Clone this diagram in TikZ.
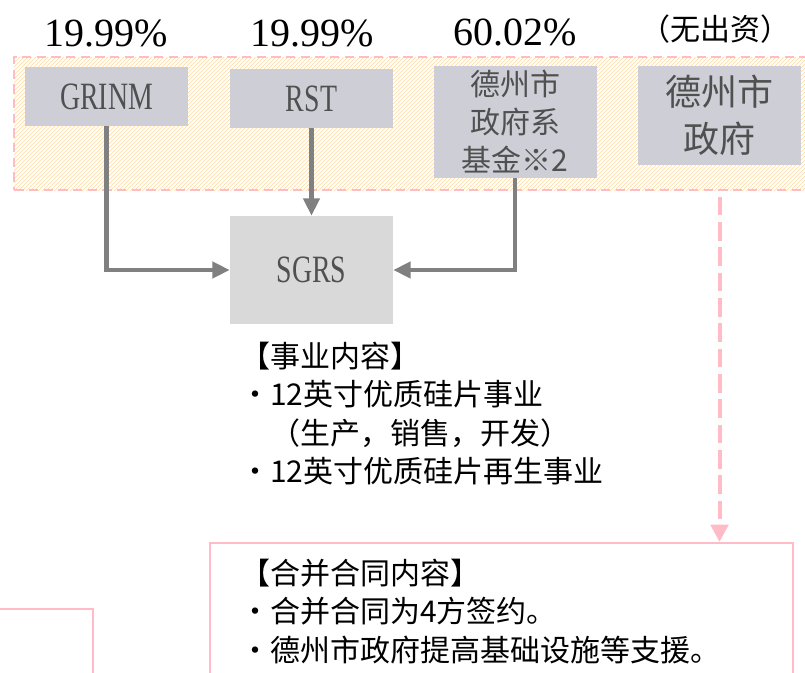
\documentclass[tikz,border=0pt]{standalone}
\usepackage{fontspec}
\setmainfont{Liberation Serif}
\newfontfamily\cjk{Noto Sans CJK SC}
\newfontfamily\narrowserif[FakeStretch=0.72]{Liberation Serif}
\usetikzlibrary{arrows.meta,patterns}

\definecolor{boxgray}{RGB}{206,206,215}
\definecolor{sgrsgray}{RGB}{217,217,217}
\definecolor{linegray}{RGB}{128,128,128}
\definecolor{labelgray}{RGB}{80,80,80}
\definecolor{pinkline}{RGB}{255,188,198}
\definecolor{hatch}{RGB}{255,218,160}

\begin{document}
\begin{tikzpicture}[x=0.75pt,y=-0.75pt,
    share/.style={draw=pinkline, dash pattern=on 7pt off 4pt, line width=1.8pt,
        pattern=north east lines, pattern color=hatch, inner sep=0pt},
    holder/.style={fill=boxgray, text=labelgray, inner sep=0pt,
        minimum width=122.25pt},
    latin/.style={font=\narrowserif\fontsize{29}{34}\selectfont},
    pct/.style={font=\fontsize{30}{36}\selectfont},
    flow/.style={draw=linegray, line width=3.2pt, -{Triangle[length=13pt,width=12pt]}},
    note/.style={align=left, inner sep=0pt, font=\cjk\fontsize{22.5}{28.7}\selectfont},
    pinkbox/.style={draw=pinkline, line width=1.5pt}]
\clip (0,0) rectangle (805,673);

% shareholders area
\node[share, anchor=north west, minimum width=600pt, minimum height=99.75pt] (share) at (13,56) {};

\node[pct] (pgrinm) at (106,33) {19.99\%};
\node[pct] (prst) at (312,33) {19.99\%};
\node[pct] (pfund) at (515,32) {60.02\%};
\node[note] (pcity) at (715,29) {（无出资）};

\node[holder, latin, minimum height=44.25pt] (grinm) at (106.5,96.5) {GRINM};
\node[holder, latin, minimum height=44.25pt] (rst) at (311.5,98.5) {RST};
\node[holder, align=center, minimum height=84pt,
    font=\cjk\fontsize{22.5}{28.5}\selectfont] (fund) at (515,122) {德州市\\政府系\\基金※2};
\node[holder, align=center, minimum height=74.25pt,
    font=\cjk\fontsize{27}{35}\selectfont] (city) at (719.5,115.5) {德州市\\政府};

\node[holder, latin, fill=sgrsgray, minimum height=81pt] (sgrs) at (311.5,270) {SGRS};

\draw[flow] (grinm.south) |- (sgrs.west);
\draw[flow] (rst.south) -- (sgrs.north);
\draw[flow] (fund.south) |- (sgrs.east);

\node[note, anchor=north west] (business) at (240,342) {【事业内容】\\・12英寸优质硅片事业\\\hspace{1em}（生产，销售，开发）\\・12英寸优质硅片再生事业};

% agreement
\node[pinkbox, anchor=north west, minimum width=437.25pt, minimum height=120pt] (merge) at (209,542) {};
\node[note, anchor=north west] (terms) at (240,559) {【合并合同内容】\\・合并合同为4方签约。\\・德州市政府提高基础设施等支援。};
\draw[pinkbox] (-10,609) -- (93,609) -- (93,690);

\coordinate (from) at ([yshift=-4pt]city.south |- share.south);
\draw[draw=pinkline, line width=3pt, dash pattern=on 14pt off 5pt,
    -{Triangle[length=13pt,width=13pt]}] (from) -- (from |- merge.north);
\end{tikzpicture}
\end{document}
